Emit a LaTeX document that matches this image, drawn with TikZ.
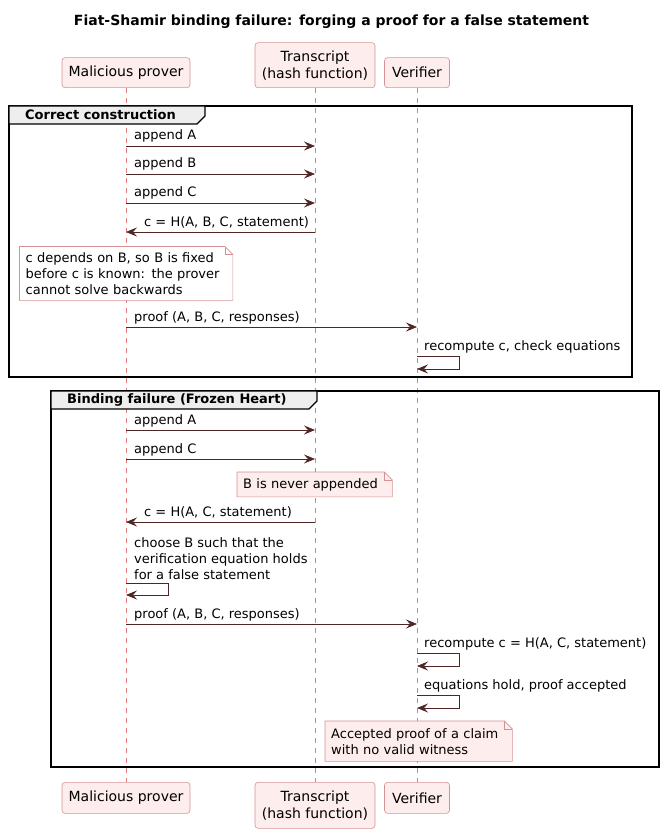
\documentclass[tikz,border=0pt]{standalone}
\usepackage{fontspec}
\setmainfont{DejaVu Sans}
\definecolor{partpink}{RGB}{253, 237, 236}
\definecolor{partline}{RGB}{214, 146, 146}
\definecolor{lifepink}{RGB}{220, 125, 125}
\definecolor{msgbrown}{RGB}{78, 38, 38}
\definecolor{tabgray}{RGB}{238, 238, 238}
\usepackage{tikz}
\usetikzlibrary{arrows.meta, positioning, calc, backgrounds}

\tikzset{
  participant/.style={draw=partline, fill=partpink, line width=0.6pt, rounded corners=3pt, align=center, inner sep=0pt, font=\fontsize{14pt}{17pt}\selectfont},
  lifeline/.style={draw=lifepink, line width=0.6pt, dash pattern=on 5pt off 5pt},
  msg/.style={draw=msgbrown, line width=0.8pt, -{Stealth[length=11pt, width=9pt, inset=4pt]}},
  msglabel/.style={anchor=base west, inner sep=0pt, font=\fontsize{13pt}{16pt}\selectfont},
  notetext/.style={anchor=north west, align=left, inner xsep=6pt, inner ysep=0pt, font=\fontsize{13pt}{16pt}\selectfont},
  notebox/.style={draw=partline, line width=0.6pt},
  groupframe/.style={draw=black, line width=1.5pt},
  grouptab/.style={draw=black, fill=tabgray, line width=1.2pt},
  grouplabel/.style={anchor=west, inner sep=0pt, font=\bfseries\fontsize{13pt}{16pt}\selectfont}
}

\begin{document}
\begin{tikzpicture}[x=1pt, y=-1pt]
  \useasboundingbox (0,0) rectangle (663,834);

  % Title
  \node[font=\bfseries\fontsize{14pt}{17pt}\selectfont] (title) at (331.5, 22) {Fiat-Shamir binding failure: forging a proof for a false statement};

  % Participants, top and bottom
  \node[participant, minimum width=128pt, minimum height=30pt, anchor=south] (proverT) at (126, 88) {Malicious prover};
  \node[participant, minimum width=120pt, minimum height=45pt, anchor=south] (transT) at (315, 88) {Transcript\\(hash function)};
  \node[participant, minimum width=65pt, minimum height=30pt, anchor=south] (verT) at (417, 88) {Verifier};
  \node[participant, minimum width=128pt, minimum height=31pt, anchor=north] (proverB) at (126, 782) {Malicious prover};
  \node[participant, minimum width=120pt, minimum height=46pt, anchor=north] (transB) at (315, 782) {Transcript\\(hash function)};
  \node[participant, minimum width=65pt, minimum height=31pt, anchor=north] (verB) at (417, 782) {Verifier};

  % Lifelines
  \begin{scope}[on background layer]
    \draw[lifeline] (proverT) -- (proverB);
    \draw[lifeline] (transT) -- (transB);
    \draw[lifeline] (verT) -- (verB);
  \end{scope}

  % Group: correct construction
  \draw[groupframe] (9, 106) rectangle (632, 377);
  \draw[grouptab] (9, 106) -- (205, 106) -- (205, 116) -- (197, 124) -- (9, 124) -- cycle;
  \node[grouplabel] (g1) at (25, 115) {Correct construction};

  \coordinate (a1p) at (126, 146); \coordinate (a1t) at (315, 146);
  \draw[msg] (a1p) -- (a1t);
  \node[msglabel] (la1) at ([xshift=8pt, yshift=6pt]a1p) {append A};

  \coordinate (b1p) at (126, 174); \coordinate (b1t) at (315, 174);
  \draw[msg] (b1p) -- (b1t);
  \node[msglabel] (lb1) at ([xshift=8pt, yshift=6pt]b1p) {append B};

  \coordinate (c1p) at (126, 203); \coordinate (c1t) at (315, 203);
  \draw[msg] (c1p) -- (c1t);
  \node[msglabel] (lc1) at ([xshift=8pt, yshift=6pt]c1p) {append C};

  \coordinate (h1t) at (315, 232); \coordinate (h1p) at (126, 232);
  \draw[msg] (h1t) -- (h1p);
  \node[msglabel] (lh1) at ([xshift=18pt, yshift=6pt]h1p) {c = H(A, B, C, statement)};

  \node[notetext, text width=201pt, minimum height=53.5pt] (note1) at (19.5, 246.5) {c depends on B, so B is fixed\\before c is known: the prover\\cannot solve backwards};

  \coordinate (p1p) at (126, 327); \coordinate (p1v) at (417, 327);
  \draw[msg] (p1p) -- (p1v);
  \node[msglabel] (lp1) at ([xshift=8pt, yshift=6pt]p1p) {proof (A, B, C, responses)};

  \coordinate (r1a) at (417, 356); \coordinate (r1b) at (417, 369);
  \draw[msg] (r1a) -- ++(42, 0) |- (r1b);
  \node[msglabel] (lr1) at ([xshift=7pt, yshift=6pt]r1a) {recompute c, check equations};

  % Group: binding failure
  \draw[groupframe] (51, 391) rectangle (659, 767);
  \draw[grouptab] (51, 391) -- (317, 391) -- (317, 401) -- (309, 409) -- (51, 409) -- cycle;
  \node[grouplabel] (g2) at (67, 400) {Binding failure (Frozen Heart)};

  \coordinate (a2p) at (126, 430); \coordinate (a2t) at (315, 430);
  \draw[msg] (a2p) -- (a2t);
  \node[msglabel] (la2) at ([xshift=8pt, yshift=6pt]a2p) {append A};

  \coordinate (c2p) at (126, 459); \coordinate (c2t) at (315, 459);
  \draw[msg] (c2p) -- (c2t);
  \node[msglabel] (lc2) at ([xshift=8pt, yshift=6pt]c2p) {append C};

  \node[notetext, text width=143pt, minimum height=24.5pt] (note2) at (237, 472) {B is never appended};

  \coordinate (h2t) at (315, 522); \coordinate (h2p) at (126, 522);
  \draw[msg] (h2t) -- (h2p);
  \node[msglabel] (lh2) at ([xshift=18pt, yshift=6pt]h2p) {c = H(A, C, statement)};

  \coordinate (s2a) at (126, 583); \coordinate (s2b) at (126, 595);
  \draw[msg] (s2a) -- ++(42, 0) |- (s2b);
  \node[notetext, inner xsep=0pt] (ls2) at (134, 537) {choose B such that the\\verification equation holds\\for a false statement};

  \coordinate (p2p) at (126, 624); \coordinate (p2v) at (417, 624);
  \draw[msg] (p2p) -- (p2v);
  \node[msglabel] (lp2) at ([xshift=8pt, yshift=6pt]p2p) {proof (A, B, C, responses)};

  \coordinate (r2a) at (417, 653); \coordinate (r2b) at (417, 666);
  \draw[msg] (r2a) -- ++(42, 0) |- (r2b);
  \node[msglabel] (lr2) at ([xshift=7pt, yshift=6pt]r2a) {recompute c = H(A, C, statement)};

  \coordinate (e2a) at (417, 695); \coordinate (e2b) at (417, 708);
  \draw[msg] (e2a) -- ++(42, 0) |- (e2b);
  \node[msglabel] (le2) at ([xshift=7pt, yshift=6pt]e2a) {equations hold, proof accepted};

  \node[notetext, text width=175pt, minimum height=40pt] (note3) at (325, 721) {Accepted proof of a claim\\with no valid witness};

  % Note outlines with folded corner
  \begin{scope}[on background layer]
    \foreach \n/\f in {note1/white, note2/partpink, note3/partpink} {
      \draw[notebox, fill=\f] (\n.south west) -- (\n.north west) -- ([xshift=-8pt]\n.north east) -- ([yshift=-8pt]\n.north east) -- (\n.south east) -- cycle;
      \draw[notebox] ([xshift=-8pt]\n.north east) -- ([xshift=-8pt, yshift=-8pt]\n.north east) -- ([yshift=-8pt]\n.north east);
    }
  \end{scope}
\end{tikzpicture}
\end{document}
